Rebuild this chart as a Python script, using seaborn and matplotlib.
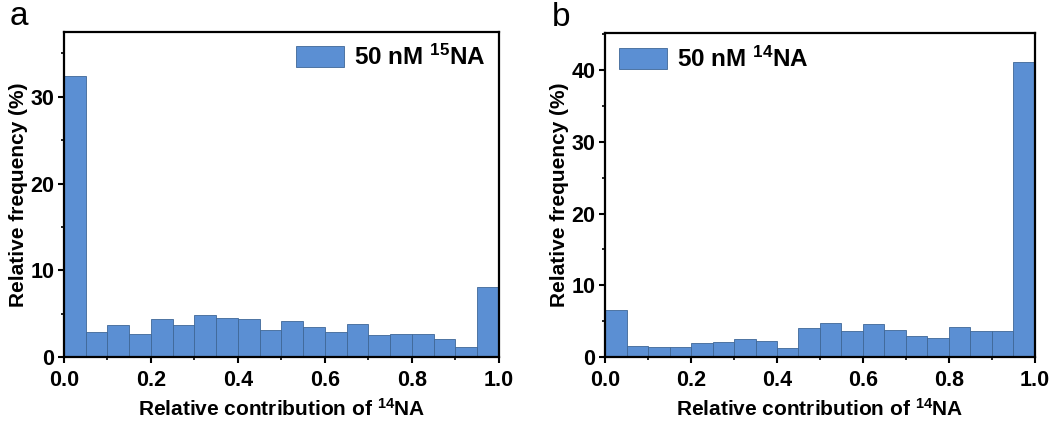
import numpy as np
import pandas as pd
import matplotlib
matplotlib.use('Agg')
import matplotlib.pyplot as plt
import seaborn as sns
from matplotlib.ticker import MultipleLocator, FormatStrFormatter

# bin centres of the relative contribution of 14NA (20 bins of width 0.05)
bin_centers = np.round(np.arange(0.025, 1.0, 0.05), 3)

# relative frequency (%)
freq_15na = [32.4, 2.9, 3.7, 2.7, 4.4, 3.7, 4.9, 4.5, 4.4, 3.1,
             4.1, 3.5, 2.9, 3.8, 2.5, 2.7, 2.7, 2.1, 1.2, 8.1]
freq_14na = [6.6, 1.6, 1.4, 1.4, 1.9, 2.1, 2.5, 2.3, 1.3, 4.0,
             4.7, 3.6, 4.6, 3.8, 2.9, 2.7, 4.2, 3.6, 3.6, 41.2]

panel_labels = ['a', 'b']
legend_labels = ['50 nM $^{15}$NA', '50 nM $^{14}$NA']
y_limits = [37.5, 45.2]
legend_locs = ['upper right', 'upper left']

sns.set_theme(style='ticks')
plt.rcParams['font.family'] = ['Liberation Sans', 'DejaVu Sans']
plt.rcParams['mathtext.fontset'] = 'custom'
plt.rcParams['mathtext.rm'] = 'Liberation Sans:bold'
plt.rcParams['mathtext.default'] = 'rm'
plt.rcParams['text.color'] = 'black'
plt.rcParams['axes.labelcolor'] = 'black'

bar_color = '#5b8fd3'

fig = plt.figure(figsize=(10.58, 4.23), dpi=100)
ax_a = fig.add_axes([0.0605, 0.156, 0.411, 0.769])
ax_b = fig.add_axes([0.572, 0.156, 0.406, 0.766])

for ax, freq, lab, leg, ymax, loc in zip([ax_a, ax_b], [freq_15na, freq_14na],
                                         panel_labels, legend_labels, y_limits, legend_locs):
    df = pd.DataFrame({'x': bin_centers, 'w': freq})
    sns.histplot(data=df, x='x', weights='w', bins=20, binrange=(0, 1), ax=ax,
                 color=bar_color, alpha=1, edgecolor='#3f6797', linewidth=0.6,
                 label=leg)
    ax.set_xlim(0, 1)
    ax.set_ylim(0, ymax)
    ax.xaxis.set_major_locator(MultipleLocator(0.2))
    ax.xaxis.set_minor_locator(MultipleLocator(0.1))
    ax.yaxis.set_major_locator(MultipleLocator(10))
    ax.yaxis.set_minor_locator(MultipleLocator(5))
    ax.xaxis.set_major_formatter(FormatStrFormatter('%.1f'))
    ax.tick_params(which='major', direction='out', length=4, width=1.5,
                   labelsize=15.5, colors='black')
    ax.tick_params(axis='x', which='major', pad=5)
    ax.tick_params(axis='y', which='major', pad=3)
    ax.tick_params(which='minor', direction='out', length=2.5, width=1.2,
                   colors='black')
    for t in ax.get_xticklabels() + ax.get_yticklabels():
        t.set_fontweight('bold')
    for s in ax.spines.values():
        s.set_visible(True)
        s.set_linewidth(1.6)
        s.set_color('black')
    ax.set_xlabel('Relative contribution of $^{14}$NA', fontsize=15,
                  fontweight='bold', labelpad=5)
    ax.set_ylabel('Relative frequency (%)', fontsize=15, fontweight='bold',
                  labelpad=2)
    ax.legend(loc=loc, frameon=False, handlelength=2.0,
              handleheight=0.95, handletextpad=0.4, borderaxespad=0.15,
              prop={'weight': 'bold', 'size': 17.5})
    ax.text(-0.125, 1.0, lab, transform=ax.transAxes, fontsize=24,
            ha='left', va='bottom')

fig.savefig('out.png', dpi=100)
